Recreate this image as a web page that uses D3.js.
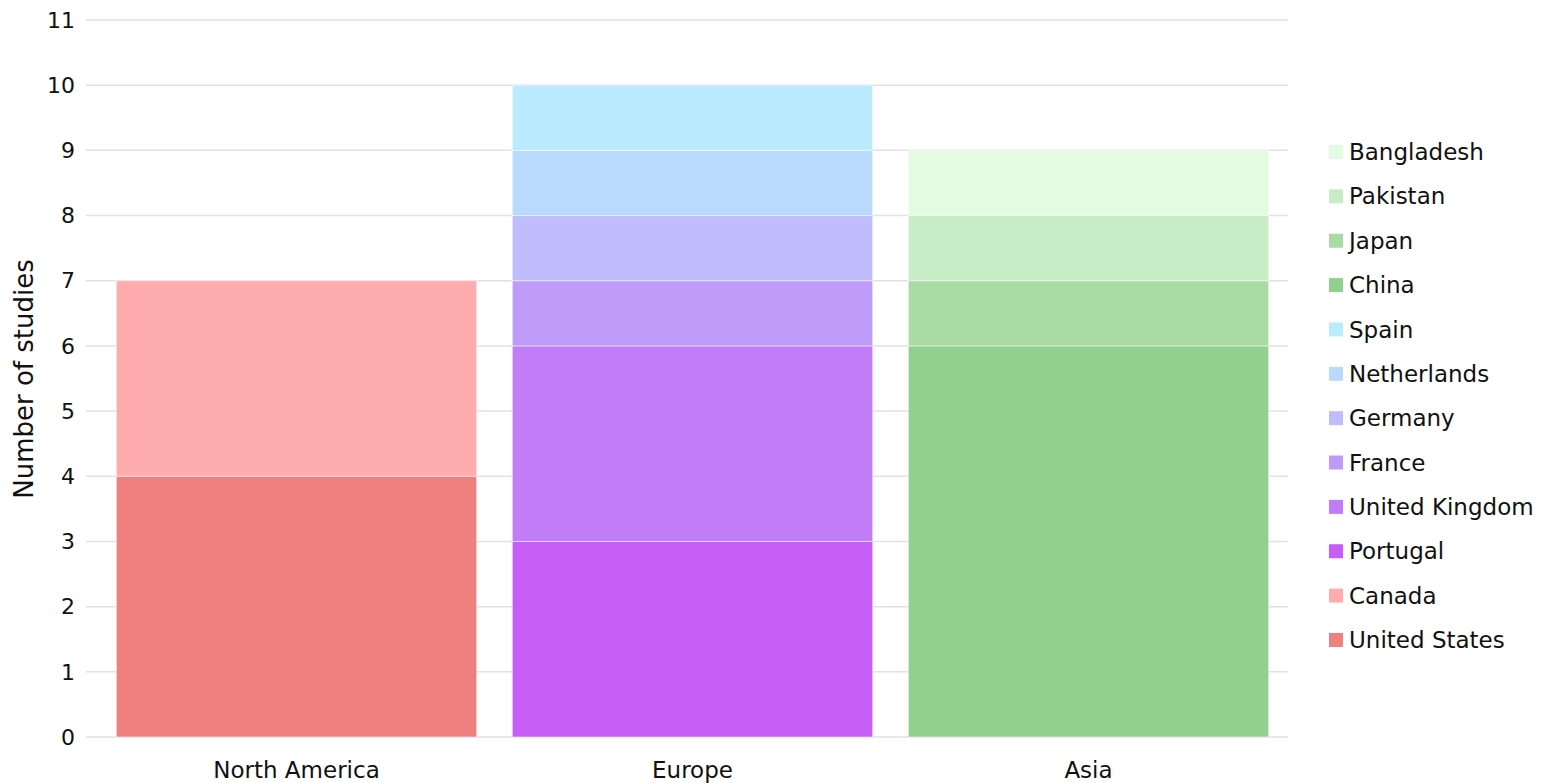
<!DOCTYPE html>
<html>
<head>
<meta charset="utf-8">
<script src="https://cdn.jsdelivr.net/npm/d3@7"></script>
<style>
  body { margin: 0; background: #fff; }
  svg text { font-family: "DejaVu Sans", Verdana, sans-serif; fill: #111; }
</style>
</head>
<body>
<svg id="chart" width="1554" height="783"></svg>
<script>
const regions = ["North America", "Europe", "Asia"];
// stacking order, bottom to top
const countries = ["United States", "Canada", "Portugal", "United Kingdom", "France",
  "Germany", "Netherlands", "Spain", "China", "Japan", "Pakistan", "Bangladesh"];
const countryRegion = ["North America", "North America", "Europe", "Europe", "Europe",
  "Europe", "Europe", "Europe", "Asia", "Asia", "Asia", "Asia"];
const studies = [4, 3, 3, 3, 1, 1, 1, 1, 6, 1, 1, 1];
const colors = ["#f08080", "#ffacaf", "#c65df5", "#c17df7", "#bf9bf9", "#bfbdfc",
  "#badafd", "#bbebfe", "#92d08e", "#a8dca4", "#c7ecc6", "#e3fbe0"];
const yTicks = [0, 1, 2, 3, 4, 5, 6, 7, 8, 9, 10, 11];

const svg = d3.select("#chart");
const gridLeft = 86, gridRight = 1288;

const x = d3.scaleBand().domain(regions).range([98.5, 1286.5]).paddingInner(0.09).paddingOuter(0.045);
const y = d3.scaleLinear().domain([0, 11]).range([737, 20]);
const color = d3.scaleOrdinal().domain(countries).range(colors);

// table: one row per region, one column per country
const table = regions.map(r => {
  const row = { region: r };
  countries.forEach((c, i) => { row[c] = countryRegion[i] === r ? studies[i] : 0; });
  return row;
});
const series = d3.stack().keys(countries)(table);

// gridlines
svg.append("g").selectAll("line")
  .data(yTicks)
  .join("line")
  .attr("x1", gridLeft).attr("x2", gridRight)
  .attr("y1", d => y(d)).attr("y2", d => y(d))
  .attr("stroke", "#e2e2e2").attr("stroke-width", 1.5);

// y tick labels
svg.append("g").selectAll("text")
  .data(yTicks)
  .join("text")
  .attr("x", 75).attr("y", d => y(d))
  .attr("dy", "0.35em")
  .attr("text-anchor", "end")
  .attr("font-size", 22)
  .text(d => d);

// bars
svg.append("g").selectAll("g")
  .data(series)
  .join("g")
  .attr("fill", d => color(d.key))
  .selectAll("rect")
  .data(d => d.filter(s => s[1] > s[0]))
  .join("rect")
  .attr("x", d => x(d.data.region))
  .attr("width", x.bandwidth())
  .attr("y", d => y(d[1]))
  .attr("height", d => y(d[0]) - y(d[1]))
  .attr("stroke", "rgba(255,255,255,0.5)")
  .attr("stroke-width", 1);

// x labels
svg.append("g").selectAll("text")
  .data(regions)
  .join("text")
  .attr("x", d => x(d) + x.bandwidth() / 2)
  .attr("y", 778)
  .attr("text-anchor", "middle")
  .attr("font-size", 23)
  .text(d => d);

// y axis title
svg.append("text")
  .attr("transform", "translate(33,379) rotate(-90)")
  .attr("text-anchor", "middle")
  .attr("font-size", 26)
  .text("Number of studies");

// legend, top to bottom reversed
const legendItems = countries.slice().reverse();
const legend = svg.append("g").selectAll("g")
  .data(legendItems)
  .join("g")
  .attr("transform", (d, i) => `translate(1329,${152 + i * 44.36})`);
legend.append("rect")
  .attr("x", 0).attr("y", -7)
  .attr("width", 14).attr("height", 14)
  .attr("fill", d => color(d));
legend.append("text")
  .attr("x", 20).attr("y", 0)
  .attr("dy", "0.35em")
  .attr("font-size", 23)
  .text(d => d);
</script>
</body>
</html>
